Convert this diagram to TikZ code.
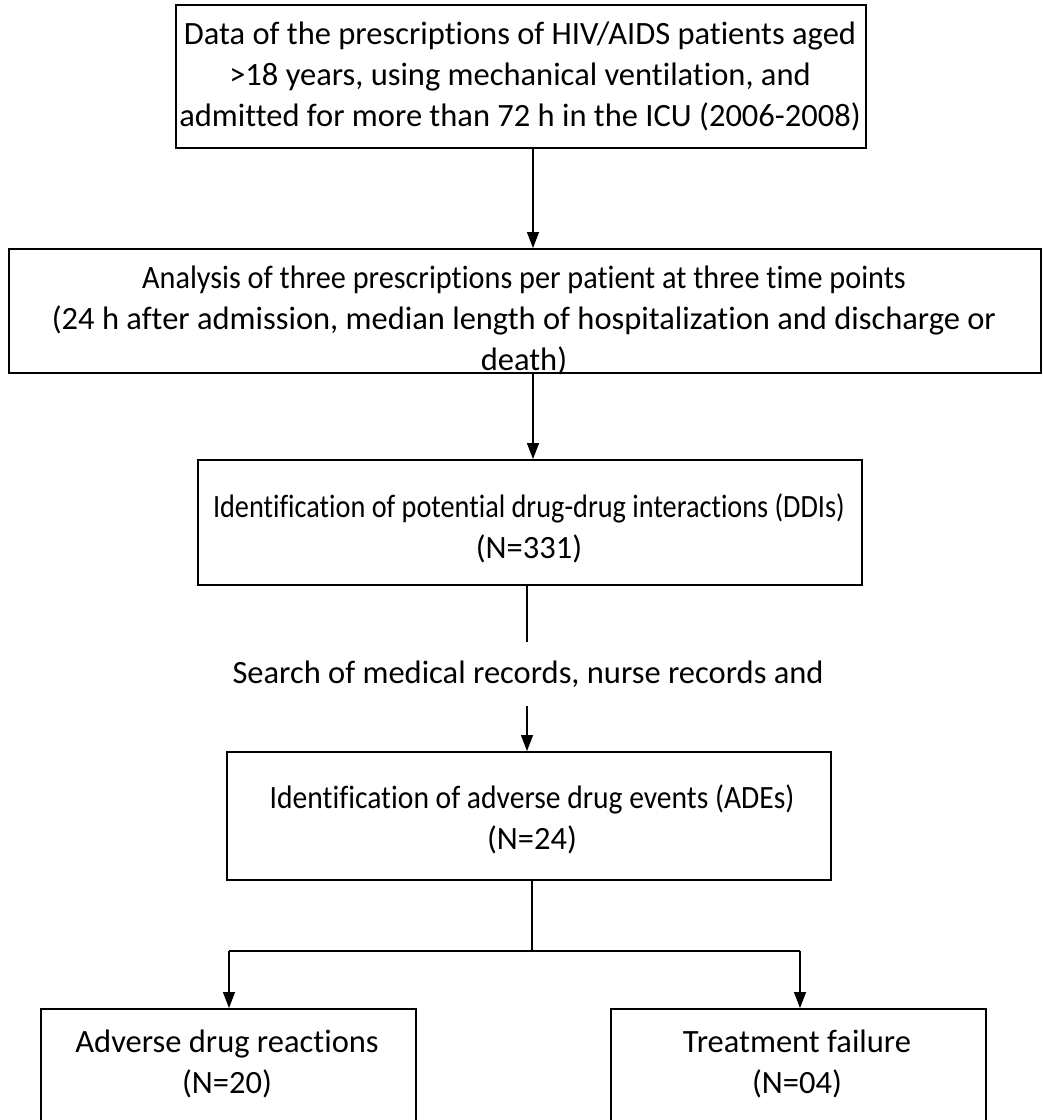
\documentclass[tikz,border=0pt]{standalone}
\usepackage{fontspec}
\usepackage{graphicx}
\setmainfont[Ligatures=NoCommon]{Carlito}
\usetikzlibrary{arrows.meta}
\newcommand{\hsq}[2]{\scalebox{#1}[1]{#2}}
\begin{document}
\begin{tikzpicture}[x=1pt,y=-1pt,
  box/.style={draw,line width=1.6pt,inner sep=0pt,anchor=north west},
  txt/.style={align=center,font=\fontsize{32.5}{41}\selectfont,inner sep=0pt},
  conn/.style={line width=1.4pt},
  arr/.style={line width=1.4pt,-{Triangle[width=12pt,length=16pt]}}]
\useasboundingbox (0,0) rectangle (1043,1120);
% boxes
\node[box,minimum width=690,minimum height=143] (b1) at (175,4) {};
\node[box,minimum width=1032,minimum height=124] (b2) at (8,248) {};
\node[box,minimum width=664,minimum height=125] (b3) at (197,459) {};
\node[box,minimum width=604,minimum height=128] (b4) at (226,751) {};
\node[box,minimum width=375,minimum height=130] (b5) at (40,1008) {};
\node[box,minimum width=375,minimum height=130] (b6) at (610,1008) {};
% texts
\node[txt] (t1) at (520,76) {Data of the prescriptions of HIV/AIDS patients aged\\ \strut>18 years, using mechanical ventilation, and\\ admitted for more than 72 h in the ICU (2006-2008)};
\node[txt] (t2) at (524,320) {\hsq{0.93}{Analysis of three prescriptions per patient at three time points}\\ (24 h after admission, median length of hospitalization and discharge or\\ death)};
\node[txt] (t3) at (529,528) {\hsq{0.87}{Identification of potential drug-drug interactions (DDIs)}\\ (N=331)};
\node[txt] (t4) at (532,819) {\hsq{0.91}{Identification of adverse drug events (ADEs)}\\ (N=24)};
\node[txt] (t5) at (227,1064) {Adverse drug reactions\\ (N=20)};
\node[txt] (t6) at (797,1064) {Treatment failure\\ (N=04)};
\node[txt,minimum height=64,minimum width=600] (s) at (528,674) {Search of medical records, nurse records and};
% connectors
\coordinate (xa) at (533,0);
\coordinate (xb) at (527,0);
\coordinate (xc) at (532,951);
\coordinate (xl) at (229,951);
\coordinate (xr) at (800,951);
\draw[arr] (b1.south -| xa) -- (b2.north -| xa);
\draw[arr] (b2.south -| xa) -- (b3.north -| xa);
\draw[conn] (b3.south -| xb) -- (s.north -| xb);
\draw[arr] (s.south -| xb) -- (b4.north -| xb);
\draw[conn] (b4.south -| xc) -- (xc);
\draw[conn] (xl) -- (xr);
\draw[arr] (xl) -- (b5.north -| xl);
\draw[arr] (xr) -- (b6.north -| xr);
\end{tikzpicture}
\end{document}
